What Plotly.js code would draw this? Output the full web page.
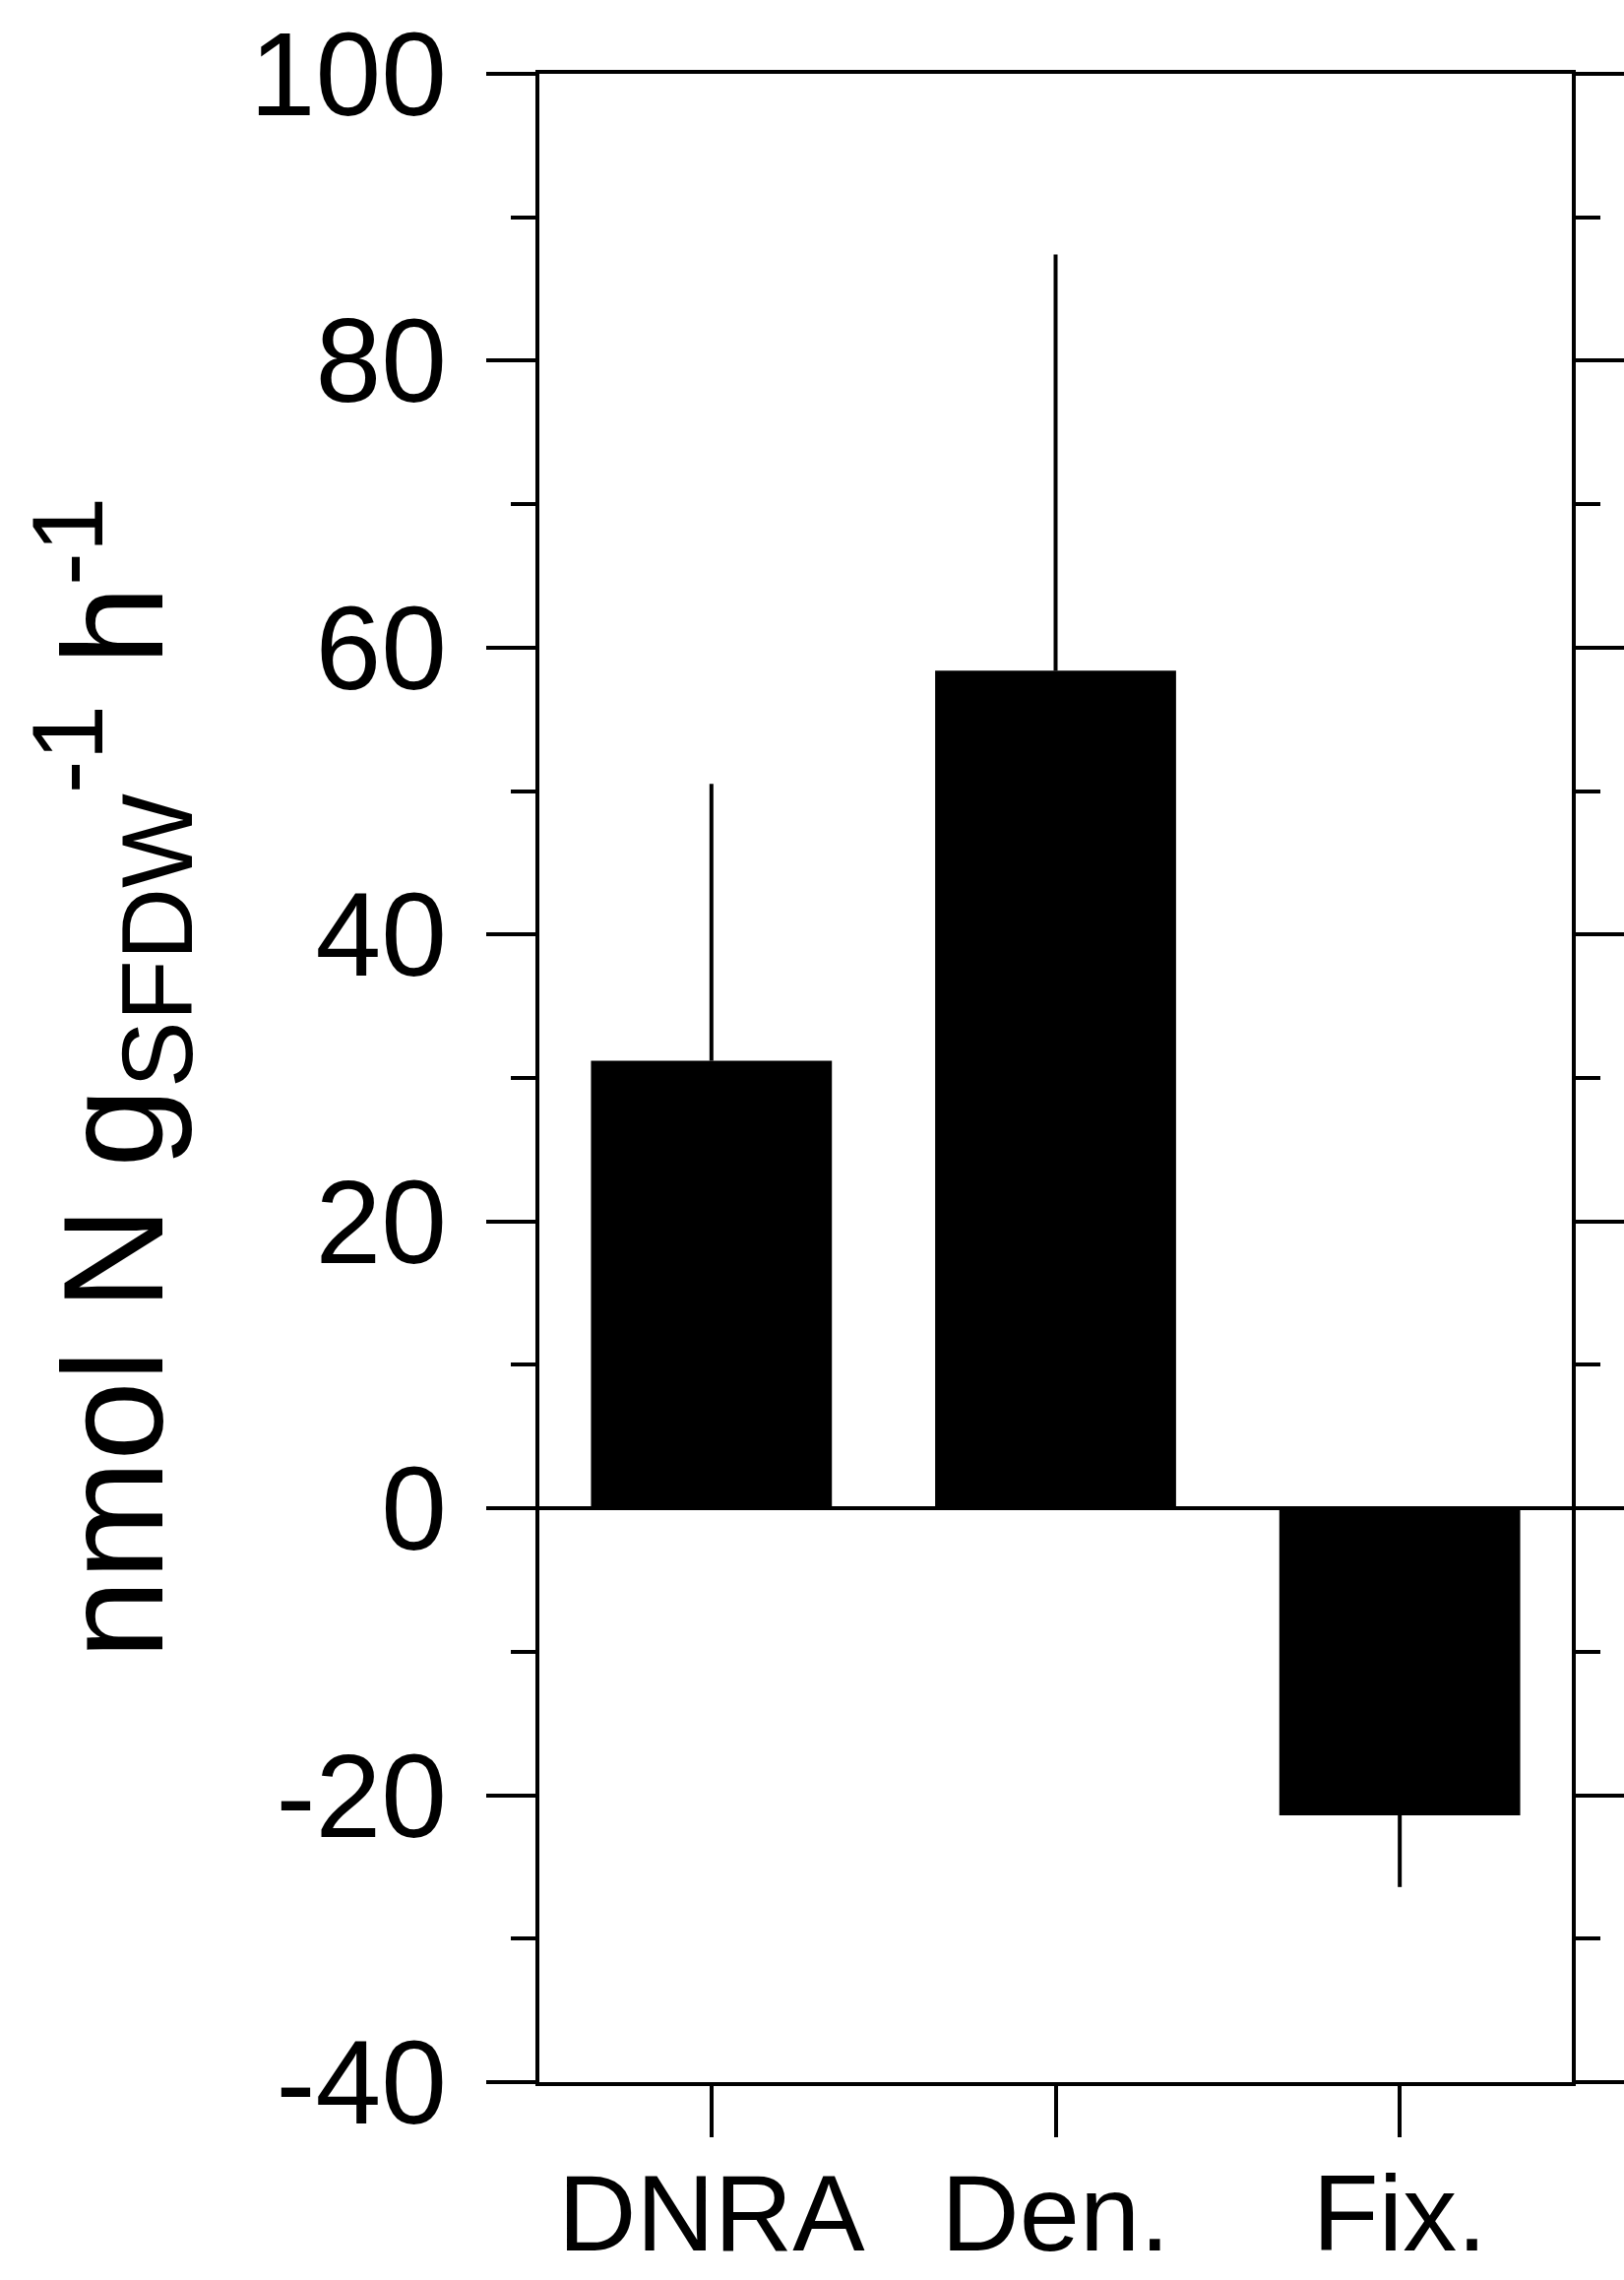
<!DOCTYPE html>
<html>
<head>
<meta charset="utf-8">
<script src="https://cdn.plot.ly/plotly-3.0.1.min.js"></script>
<style>
  body { margin: 0; background: #fff; }
  #chart { width: 1650px; height: 2316px; }
</style>
</head>
<body>
<div id="chart"></div>
<script>
// rates
const processes = ['DNRA', 'Den.', 'Fix.'];
const rates = [31.2, 58.4, -21.4];
const errUp = [19.3, 29.0, 0];
const errDown = [0, 0, 5.0];

const yTicks = [-40, -20, 0, 20, 40, 60, 80, 100];
const yTickText = ['-40', '-20', '0', '20', '40', '60', '80', '100'];

const font = 'Liberation Sans, Arial, sans-serif';

const data = [{
    x: processes,
    y: rates,
    type: 'bar',
    width: 0.7,
    marker: {color: '#000', line: {width: 0}},
    error_y: {
        type: 'data',
        symmetric: false,
        array: errUp,
        arrayminus: errDown,
        color: '#000',
        thickness: 4,
        width: 0
    },
    hoverinfo: 'skip'
}];

const layout = {
    width: 1650,
    height: 2316,
    margin: {l: 548, r: 53, t: 75, b: 201},
    paper_bgcolor: '#fff',
    plot_bgcolor: '#fff',
    showlegend: false,
    font: {family: font, color: '#000'},
    xaxis: {
        type: 'category',
        range: [-0.5, 2.5],
        showline: true,
        mirror: true,
        linecolor: '#000',
        linewidth: 4,
        ticks: 'outside',
        ticklen: 52,
        tickwidth: 4,
        tickcolor: '#000',
        tickfont: {size: 110, family: font, color: '#000'},
        ticklabelstandoff: -17,
        showgrid: false,
        zeroline: false
    },
    yaxis: {
        range: [-40, 100],
        tickmode: 'array',
        tickvals: yTicks,
        ticktext: yTickText,
        showline: true,
        mirror: 'allticks',
        linecolor: '#000',
        linewidth: 4,
        ticks: 'outside',
        ticklen: 50,
        tickwidth: 4,
        tickcolor: '#000',
        tickfont: {size: 120, family: font, color: '#000'},
        ticklabelstandoff: 16,
        minor: {dtick: 10, tick0: 0, ticks: 'outside', ticklen: 25, tickwidth: 4, tickcolor: '#000', showgrid: false},
        showgrid: false,
        zeroline: true,
        zerolinecolor: '#000',
        zerolinewidth: 4,
        title: {
            text: 'nmol N g<sub>SFDW</sub><sup>-1</sup> h<sup>-1</sup>',
            font: {size: 145, family: font, color: '#000'},
            standoff: 40
        }
    }
};

Plotly.newPlot('chart', data, layout, {displayModeBar: false, staticPlot: true});
</script>
</body>
</html>
